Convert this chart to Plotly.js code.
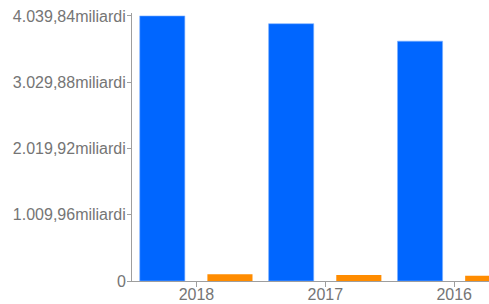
<!DOCTYPE html>
<html>
<head>
<meta charset="utf-8">
<script src="https://cdn.plot.ly/plotly-3.0.1.min.js"></script>
<style>html,body{margin:0;padding:0;background:#fff;overflow:hidden;}#chart{width:489px;height:304px;}</style>
</head>
<body>
<div id="chart"></div>
<script>
const categories = ["2018", "2017", "2016"];
const seriesA = [4040, 3922, 3656];
const seriesB = [102, 91, 81];
const yTickVals = [0, 1009.96, 2019.92, 3029.88, 4039.84];
const yTickText = ["0", "1.009,96miliardi", "2.019,92miliardi", "3.029,88miliardi", "4.039,84miliardi"];

const traces = [
  {type: "bar", x: categories, y: seriesA, marker: {color: "#0066ff", line: {color: "#7fb2ff", width: 0.6}},
   offset: -0.44, width: 0.35, hoverinfo: "none"},
  {type: "bar", x: categories, y: seriesB, marker: {color: "#ff8c00", line: {width: 0}},
   offset: 0.085, width: 0.35, hoverinfo: "none"}
];
const layout = {
  width: 489, height: 304,
  margin: {l: 132, r: 0, t: 13, b: 23},
  paper_bgcolor: "#ffffff", plot_bgcolor: "#ffffff",
  showlegend: false,
  barmode: "overlay",
  font: {family: "Liberation Sans, Arial, sans-serif", size: 16, color: "#757575"},
  xaxis: {type: "category", range: [-0.5, 2.27], showline: true, linecolor: "#9e9e9e", linewidth: 1,
          ticks: "outside", ticklen: 5, tickcolor: "#9e9e9e", showgrid: false, zeroline: false,
          ticklabelstandoff: -6,
          tickfont: {size: 16, color: "#757575"}, fixedrange: true},
  yaxis: {range: [0, 4085], showline: true, linecolor: "#9e9e9e", linewidth: 1,
          ticks: "outside", ticklen: 4, tickcolor: "#9e9e9e", showgrid: false, zeroline: false,
          ticklabelstandoff: -2,
          tickvals: yTickVals, ticktext: yTickText, tickfont: {size: 16, color: "#757575"}, fixedrange: true}
};
Plotly.newPlot("chart", traces, layout, {displayModeBar: false, staticPlot: true});
</script>
</body>
</html>
